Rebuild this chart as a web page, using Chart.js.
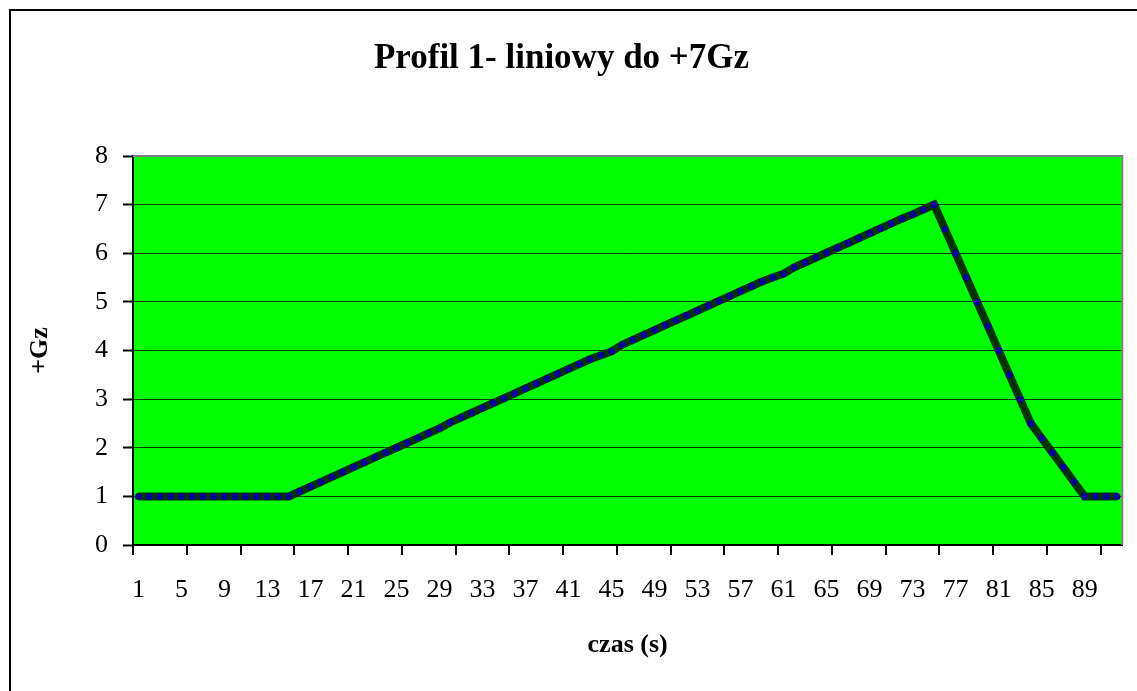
<!DOCTYPE html>
<html lang="pl">
<head>
  <meta charset="UTF-8">
  <title>Profil 1- liniowy do +7Gz</title>
  <script src="https://cdn.jsdelivr.net/npm/chart.js"></script>
  <style>
    body { margin: 0; background: #fff; }
  </style>
</head>
<body>
<canvas id="profilChart" width="1137" height="691"></canvas>

<script>
  // czas (s) - categories
  const categories = [
    '1','2','3','4','5','6','7','8','9','10','11','12','13','14','15','16','17','18','19','20',
    '21','22','23','24','25','26','27','28','29','30','31','32','33','34','35','36','37','38','39','40',
    '41','42','43','44','45','46','47','48','49','50','51','52','53','54','55','56','57','58','59','60',
    '61','62','63','64','65','66','67','68','69','70','71','72','73','74','75','76','77','78','79','80',
    '81','82','83','84','85','86','87','88','89','90','91','92'
  ];

  // +Gz values
  const gzValues = [
    1, 1, 1, 1, 1, 1, 1, 1, 1, 1, 1, 1, 1, 1, 1,
    1.1, 1.2, 1.3, 1.4, 1.5, 1.6, 1.7, 1.8, 1.9, 2.0, 2.1, 2.2, 2.3, 2.4,
    2.52, 2.62, 2.72, 2.82, 2.92, 3.02, 3.12, 3.22, 3.32, 3.42, 3.52, 3.62, 3.72, 3.82, 3.9, 3.98,
    4.12, 4.22, 4.32, 4.42, 4.52, 4.62, 4.72, 4.82, 4.92, 5.02, 5.12, 5.22, 5.32, 5.42, 5.5, 5.58,
    5.71, 5.81, 5.91, 6.01, 6.11, 6.21, 6.31, 6.41, 6.51, 6.61, 6.71, 6.8, 6.9, 7.0,
    6.5, 6.0, 5.5, 5.0, 4.5, 4.0, 3.5, 3.0, 2.5, 2.2, 1.9, 1.6, 1.3, 1.0, 1.0, 1.0, 1.0
  ];

  const yTicks = [0, 1, 2, 3, 4, 5, 6, 7, 8];
  const labelEvery = 4;   // show 1, 5, 9, ...
  const tickEvery = 5;    // tick marks every 5 categories

  const serif = "'Liberation Serif', 'Times New Roman', serif";

  // green plot area + grey top/right border, black frame of the chart
  const plotBackground = {
    id: 'plotBackground',
    beforeDraw(chart) {
      const { ctx, chartArea: a } = chart;
      ctx.save();
      ctx.fillStyle = '#00ff00';
      ctx.fillRect(a.left, a.top, a.right - a.left, a.bottom - a.top);
      ctx.restore();
    },
    afterDraw(chart) {
      const { ctx, chartArea: a } = chart;
      ctx.save();
      ctx.strokeStyle = '#808080';
      ctx.lineWidth = 2;
      ctx.beginPath();
      ctx.moveTo(a.left, a.top);
      ctx.lineTo(a.right, a.top);
      ctx.lineTo(a.right, a.bottom);
      ctx.stroke();
      ctx.strokeStyle = '#000';
      ctx.beginPath();
      ctx.moveTo(10, chart.height);
      ctx.lineTo(10, 10);
      ctx.lineTo(chart.width, 10);
      ctx.stroke();
      ctx.restore();
    }
  };

  Chart.defaults.color = '#000';

  const ctx = document.getElementById('profilChart').getContext('2d');
  const chart = new Chart(ctx, {
    type: 'line',
    data: {
      labels: categories,
      datasets: [{
        label: '+Gz',
        data: gzValues,
        borderColor: '#003300',
        borderWidth: 8,
        pointStyle: 'circle',
        pointRadius: 3.5,
        pointBorderWidth: 0,
        pointBackgroundColor: '#00009c',
        tension: 0
      }]
    },
    options: {
      responsive: false,
      devicePixelRatio: 1,
      animation: false,
      layout: { padding: { left: 0, right: 14, top: 0, bottom: 0 } },
      plugins: {
        legend: { display: false },
        tooltip: { enabled: false },
        title: {
          display: true,
          text: 'Profil 1- liniowy do +7Gz',
          font: { family: serif, size: 35, weight: 'bold' },
          padding: { top: 38, bottom: 76 }
        }
      },
      scales: {
        x: {
          offset: true,
          afterFit: (s) => { s.height = 146; },
          grid: {
            offset: true,
            drawOnChartArea: false,
            tickLength: 10,
            lineWidth: 2,
            color: (c) => (c.index % tickEvery === 0 ? '#000' : 'rgba(0,0,0,0)'),
            tickColor: (c) => (c.index % tickEvery === 0 ? '#000' : 'rgba(0,0,0,0)')
          },
          border: { display: true, color: '#000', width: 2 },
          ticks: {
            autoSkip: false,
            maxRotation: 0,
            padding: 20,
            font: { family: serif, size: 26 },
            callback: (v, i) => (i % labelEvery === 0 ? categories[i] : '')
          },
          title: {
            display: true,
            text: 'czas (s)',
            font: { family: serif, size: 26, weight: 'bold' },
            padding: { top: 0, bottom: 30 }
          }
        },
        y: {
          min: yTicks[0],
          max: yTicks[yTicks.length - 1],
          afterFit: (s) => { s.width = 133; },
          afterBuildTicks: (s) => { s.ticks = yTicks.map((v) => ({ value: v })); },
          grid: {
            color: 'rgba(0,0,0,0.75)',
            lineWidth: 1,
            tickLength: 10,
            tickColor: '#000',
            tickWidth: 2
          },
          border: { display: true, color: '#000', width: 2 },
          ticks: {
            padding: 15,
            font: { family: serif, size: 26 }
          },
          title: {
            display: true,
            text: '+Gz',
            font: { family: serif, size: 26, weight: 'bold' },
            padding: { top: 25, bottom: 0 }
          }
        }
      }
    },
    plugins: [plotBackground]
  });
</script>
</body>
</html>
